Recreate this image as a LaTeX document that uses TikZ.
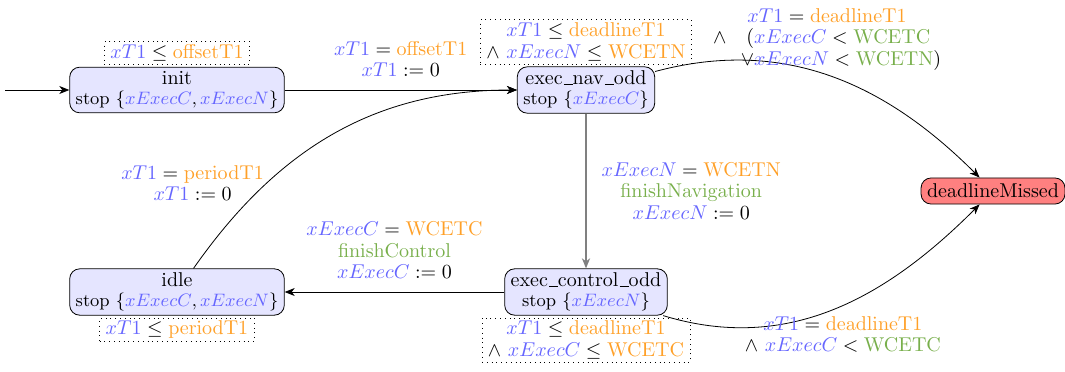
\documentclass[tikz,border=0pt]{standalone}
\usepackage{amsmath,amssymb}
\usetikzlibrary{arrows.meta,positioning}

\definecolor{varblue}{RGB}{102,102,255}
\definecolor{cstorange}{RGB}{255,160,40}
\definecolor{actgreen}{RGB}{120,175,75}
\newcommand{\blu}[1]{\textcolor{varblue}{#1}}
\newcommand{\org}[1]{\textcolor{cstorange}{\mathrm{#1}}}
\newcommand{\grn}[1]{\textcolor{actgreen}{\mathrm{#1}}}
\newcommand{\uscore}{\kern.06em\vbox{\hrule width.44em}}

\begin{document}
\begin{tikzpicture}[x=0.5pt,y=0.5pt,
  >={Stealth[length=5pt,width=4pt,inset=1.5pt]},
  state/.style={draw, rounded corners=5pt, fill=blue!10, align=center,
    inner xsep=3pt, inner ysep=2pt, font=\fontsize{10pt}{10pt}\selectfont},
  inv/.style={draw, dotted, align=center, inner xsep=3pt, inner ysep=1.5pt,
    font=\fontsize{10pt}{10.8pt}\selectfont},
  lbl/.style={align=center, font=\fontsize{10pt}{10.8pt}\selectfont}]
  \useasboundingbox (0,0) rectangle (1065,371);

  %% locations
  \node[state] (init) at (177,281) {init\\{\small stop $\{\blu{xExecC},\blu{xExecN}\}$}};
  \node[state] (nav) at (586,281) {exec\uscore nav\uscore odd\\{\small stop $\{\blu{xExecC}\}$}};
  \node[state] (ctrl) at (586,79) {exec\uscore control\uscore odd\\{\small stop $\{\blu{xExecN}\}$}};
  \node[state] (idle) at (177,79) {idle\\{\small stop $\{\blu{xExecC},\blu{xExecN}\}$}};
  \node[state, fill=red!50, inner sep=3pt] (missed) at (993,180) {deadlineMissed};

  %% invariants
  \node[inv, above=1pt of init] (initinv) {$\blu{xT1} \le \org{offsetT1}$};
  \node[inv, above=1pt of nav] (navinv)
    {$\blu{xT1} \le \org{deadlineT1}$\\$\land\ \blu{xExecN} \le \org{WCETN}$};
  \node[inv, below=1pt of idle] (idleinv) {$\blu{xT1} \le \org{periodT1}$};
  \node[inv, below=1pt of ctrl] (ctrlinv)
    {$\blu{xT1} \le \org{deadlineT1}$\\$\land\ \blu{xExecC} \le \org{WCETC}$};

  %% initial location
  \coordinate (start) at (5,281);
  \draw[->] (start) -- (init);

  %% transitions
  \draw[->] (init) -- node[lbl, above=3pt] {$\blu{xT1} = \org{offsetT1}$\\$\blu{xT1} := 0$} (nav);
  \draw[->, gray, line width=1pt] (nav) -- node[lbl, right=4pt, text=black]
    {$\blu{xExecN} = \org{WCETN}$\\$\grn{finishNavigation}$\\$\blu{xExecN} := 0$} (ctrl);
  \draw[->] (ctrl) -- node[lbl, above=3pt]
    {$\blu{xExecC} = \org{WCETC}$\\$\grn{finishControl}$\\$\blu{xExecC} := 0$} (idle);
  \draw[->] (idle) to[out=55, in=180] node[lbl, pos=0.28, left, xshift=2pt]
    {$\blu{xT1} = \org{periodT1}$\\$\blu{xT1} := 0$} (nav);

  %% deadline misses
  \draw[->] (nav) to[out=15, in=135] node[lbl, pos=0.49, above=-2pt]
    {$\begin{array}{@{}r@{}l@{}}
      \multicolumn{2}{c}{\blu{xT1} = \org{deadlineT1}}\\
      \land\quad( & \blu{xExecC} < \grn{WCETC}\\
      \lor & \blu{xExecN} < \grn{WCETN})
    \end{array}$} (missed);
  \draw[->] (ctrl) to[out=-17, in=-135] node[lbl, pos=0.53, below=2pt]
    {$\blu{xT1} = \org{deadlineT1}$\\$\land\ \blu{xExecC} < \grn{WCETC}$} (missed);

\end{tikzpicture}
\end{document}
